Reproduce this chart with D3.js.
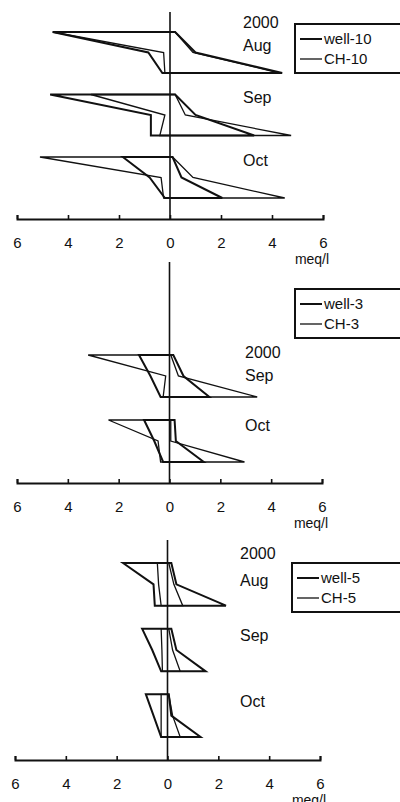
<!DOCTYPE html>
<html>
<head>
<meta charset="utf-8">
<script src="https://cdn.jsdelivr.net/npm/d3@7"></script>
<style>
body { margin: 0; background: #fff; }
svg { display: block; font-family: "Liberation Sans", Arial, sans-serif; }
</style>
</head>
<body>
<script>
// Stiff diagrams, meq/l. left = cations (Na+K, Ca, Mg), right = anions (Cl, HCO3, SO4)
var tickVals = [-6, -4, -2, 0, 2, 4, 6];

var months10 = ["Aug", "Sep", "Oct"];
var well10Left = [[4.6, 0.85, 0.3], [4.7, 0.75, 0.75], [1.85, 0.8, 0.2]];
var well10Right = [[0.2, 1.0, 4.4], [0.2, 1.0, 3.3], [0.1, 0.45, 2.05]];
var ch10Left = [[4.6, 0.25, 0.2], [3.1, 0.2, 0.4], [5.1, 0.35, 0.25]];
var ch10Right = [[0.2, 0.9, 4.3], [0.2, 0.6, 4.75], [0.1, 0.9, 4.5]];

var months3 = ["Sep", "Oct"];
var well3Left = [[1.2, 0.75, 0.35], [1.0, 0.6, 0.25]];
var well3Right = [[0.15, 0.55, 1.57], [0.2, 0.25, 1.35]];
var ch3Left = [[3.2, 0.15, 0.25], [2.4, 0.45, 0.35]];
var ch3Right = [[0.05, 0.35, 3.45], [0.05, 0.05, 2.95]];

var months5 = ["Aug", "Sep", "Oct"];
var well5Left = [[1.75, 0.55, 0.5], [1.0, 0.6, 0.25], [0.85, 0.55, 0.25]];
var well5Right = [[0.15, 0.35, 2.3], [0.15, 0.35, 1.5], [0.05, 0.15, 1.3]];
var ch5Left = [[0.4, 0.35, 0.25], [0.25, 0.22, 0.2], [0.25, 0.25, 0.25]];
var ch5Right = [[0.05, 0.25, 0.6], [0.05, 0.2, 0.5], [0.05, 0.2, 0.5]];

var panels = [
  {months: months10, names: ["well-10", "CH-10"],
   series: [[well10Left, well10Right], [ch10Left, ch10Right]],
   x0: 17, x1: 323, top: 32, bottom: 198, pad: 0.344, axisY: 219, vTop: 12,
   textX: 243, yearDy: -10, firstDy: 13, otherDy: 3, legend: {x: 295, y: 24}},
  {months: months3, names: ["well-3", "CH-3"],
   series: [[well3Left, well3Right], [ch3Left, ch3Right]],
   x0: 17, x1: 322, top: 355, bottom: 462, pad: 0.354, axisY: 483, vTop: 262,
   textX: 245, yearDy: -3, firstDy: 20, otherDy: 5, legend: {x: 295, y: 289}},
  {months: months5, names: ["well-5", "CH-5"],
   series: [[well5Left, well5Right], [ch5Left, ch5Right]],
   x0: 15, x1: 320, top: 563, bottom: 737, pad: 0.35, axisY: 760, vTop: 540,
   textX: 240, yearDy: -10, firstDy: 17, otherDy: 7, legend: {x: 292, y: 563}}
];

var svg = d3.select("body").append("svg")
    .attr("width", 400)
    .attr("height", 802);

var ink = "#111";
var widths = [2, 1.3];

panels.forEach(function(p) {
  var x = d3.scaleLinear().domain([-6, 6]).range([p.x0, p.x1]);
  var band = d3.scaleBand().domain(p.months).range([p.top, p.bottom]).paddingInner(p.pad).paddingOuter(0);
  var lev = d3.scaleLinear().domain([0, 2]).range([0, band.bandwidth()]);

  var g = svg.append("g");

  // vertical zero line
  g.append("line")
    .attr("x1", x(0)).attr("x2", x(0))
    .attr("y1", p.vTop).attr("y2", p.axisY)
    .attr("stroke", ink).attr("stroke-width", 1.6);

  // polygons
  p.series.forEach(function(s, si) {
    p.months.forEach(function(m, mi) {
      var L = s[0][mi], R = s[1][mi];
      var pts = [];
      for (var k = 0; k < 3; k++) pts.push([x(-L[k]), band(m) + lev(k)]);
      for (var k = 2; k >= 0; k--) pts.push([x(R[k]), band(m) + lev(k)]);
      g.append("path")
        .attr("d", d3.line()(pts) + "Z")
        .attr("fill", "none")
        .attr("stroke", ink)
        .attr("stroke-width", widths[si])
        .attr("stroke-linejoin", "miter");
    });
  });

  // month labels
  g.append("text")
    .attr("x", p.textX).attr("y", band(p.months[0]) + p.yearDy)
    .attr("dy", "0.35em").attr("font-size", 16).attr("fill", ink)
    .text("2000");
  p.months.forEach(function(m, mi) {
    g.append("text")
      .attr("x", p.textX).attr("y", band(m) + (mi == 0 ? p.firstDy : p.otherDy))
      .attr("dy", "0.35em").attr("font-size", 16).attr("fill", ink)
      .text(m);
  });

  // axis
  var ax = g.append("g")
    .attr("transform", "translate(0," + p.axisY + ")")
    .call(d3.axisBottom(x).tickValues(tickVals)
      .tickFormat(function(d) { return Math.abs(d); })
      .tickSizeInner(-4).tickSizeOuter(-4).tickPadding(18));
  ax.select(".domain").attr("stroke", ink).attr("stroke-width", 2);
  ax.selectAll(".tick line").attr("stroke", ink).attr("stroke-width", 1.6);
  ax.selectAll(".tick text").attr("font-size", 15).attr("fill", ink)
    .attr("font-family", "Liberation Sans, Arial, sans-serif");

  g.append("text")
    .attr("x", x(6) - 11).attr("y", p.axisY + 40)
    .attr("dy", "0.35em").attr("text-anchor", "middle")
    .attr("font-size", 14).attr("fill", ink)
    .text("meq/l");

  // legend
  var lg = g.append("g").attr("transform", "translate(" + p.legend.x + "," + p.legend.y + ")");
  lg.append("rect")
    .attr("x", 0).attr("y", 0).attr("width", 120).attr("height", 49)
    .attr("fill", "none").attr("stroke", ink).attr("stroke-width", 2);
  p.names.forEach(function(n, i) {
    var yy = 15 + i * 20;
    lg.append("line")
      .attr("x1", 5).attr("x2", 27).attr("y1", yy).attr("y2", yy)
      .attr("stroke", ink).attr("stroke-width", widths[i]);
    lg.append("text")
      .attr("x", 29).attr("y", yy).attr("dy", "0.35em")
      .attr("font-size", 15).attr("fill", ink)
      .text(n);
  });
});
</script>
</body>
</html>
